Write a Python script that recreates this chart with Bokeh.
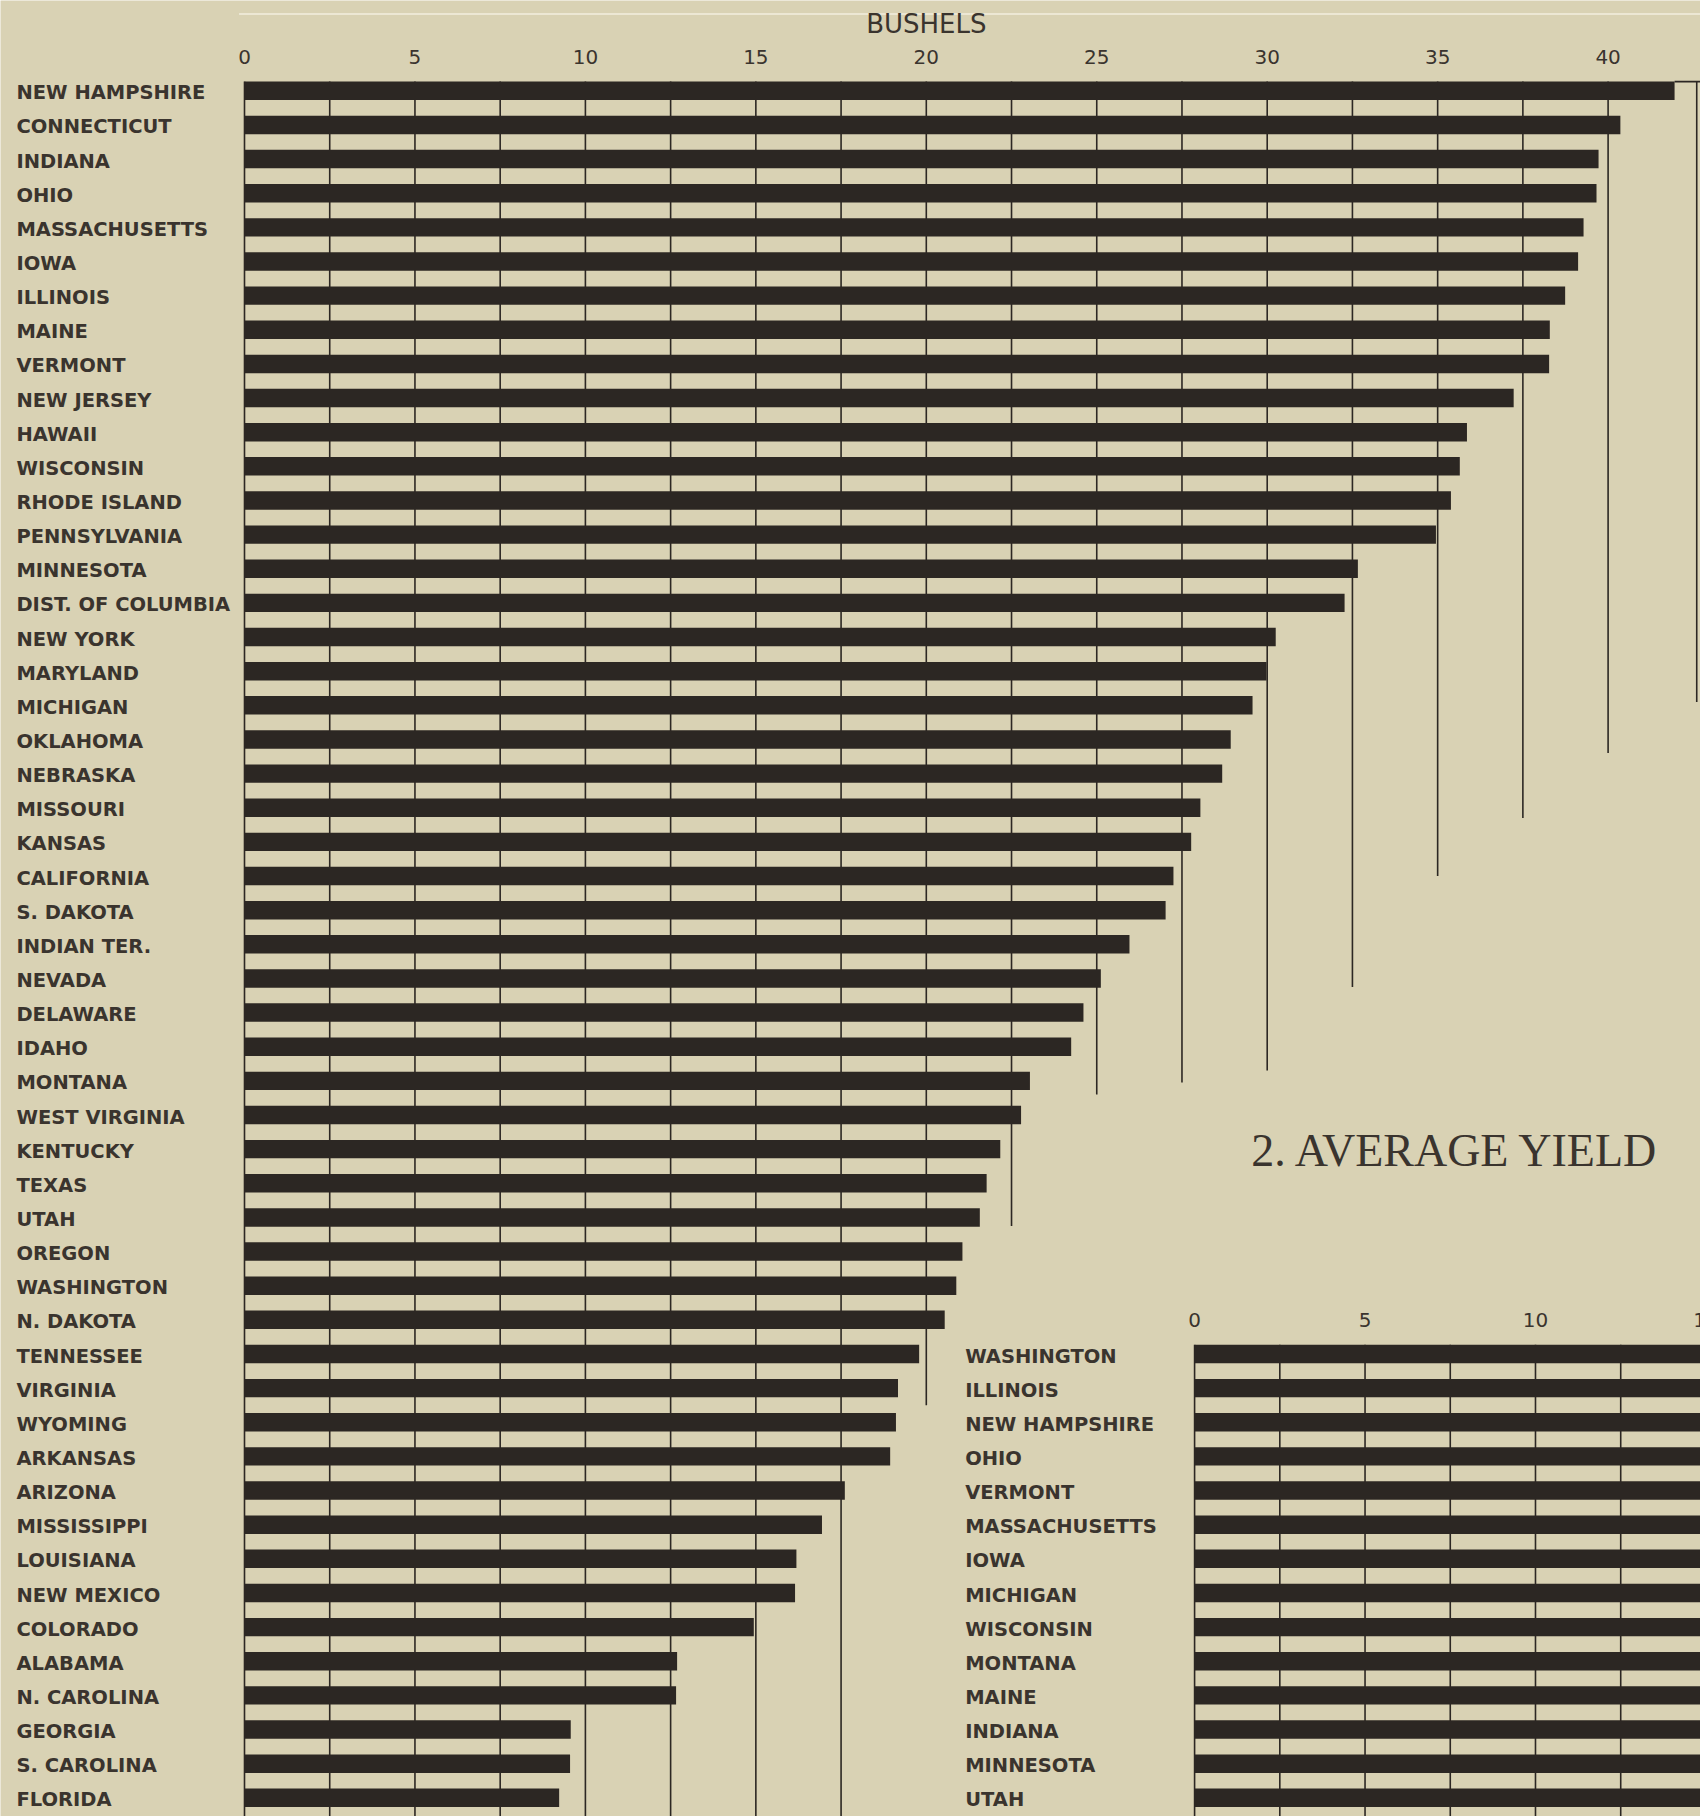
from bokeh.plotting import figure
from bokeh.models import Range1d
from bokeh.core.properties import value
from bokeh.embed import file_html
from bokeh.resources import INLINE

# ---------------- data (chart 1: average yield per acre, bushels) ----------------
states = ["NEW HAMPSHIRE", "CONNECTICUT", "INDIANA", "OHIO", "MASSACHUSETTS", "IOWA",
          "ILLINOIS", "MAINE", "VERMONT", "NEW JERSEY", "HAWAII", "WISCONSIN",
          "RHODE ISLAND", "PENNSYLVANIA", "MINNESOTA", "DIST. OF COLUMBIA", "NEW YORK",
          "MARYLAND", "MICHIGAN", "OKLAHOMA", "NEBRASKA", "MISSOURI", "KANSAS",
          "CALIFORNIA", "S. DAKOTA", "INDIAN TER.", "NEVADA", "DELAWARE", "IDAHO",
          "MONTANA", "WEST VIRGINIA", "KENTUCKY", "TEXAS", "UTAH", "OREGON",
          "WASHINGTON", "N. DAKOTA", "TENNESSEE", "VIRGINIA", "WYOMING", "ARKANSAS",
          "ARIZONA", "MISSISSIPPI", "LOUISIANA", "NEW MEXICO", "COLORADO", "ALABAMA",
          "N. CAROLINA", "GEORGIA", "S. CAROLINA", "FLORIDA"]
yields = [41.95, 40.36, 39.72, 39.66, 39.28, 39.12, 38.74, 38.29, 38.27, 37.23, 35.86,
          35.65, 35.39, 34.95, 32.66, 32.27, 30.25, 29.98, 29.57, 28.93, 28.68, 28.04,
          27.77, 27.25, 27.02, 25.96, 25.12, 24.61, 24.25, 23.04, 22.78, 22.17, 21.77,
          21.57, 21.06, 20.88, 20.54, 19.79, 19.17, 19.11, 18.94, 17.61, 16.94, 16.19,
          16.15, 14.94, 12.69, 12.66, 9.57, 9.55, 9.23]
tick_values = [0, 5, 10, 15, 20, 25, 30, 35, 40]
tick_labels = ["0", "5", "10", "15", "20", "25", "30", "35", "40"]
axis_title = "BUSHELS"

# rules every 2.5 bushels and the row at which each one stops
rule_x = [0, 2.5, 5, 7.5, 10, 12.5, 15, 17.5, 20, 22.5, 25, 27.5, 30, 32.5, 35, 37.5, 40, 42.6]
rule_end_row = [99, 99, 99, 99, 99, 99, 99, 99, 38.5, 33.25, 29.4, 29.05, 28.7, 26.25,
                23.0, 21.3, 19.4, 17.9]

# ---------------- data (chart 2, cut off at the right edge) ----------------
title2 = "2. AVERAGE YIELD"
states2 = ["WASHINGTON", "ILLINOIS", "NEW HAMPSHIRE", "OHIO", "VERMONT", "MASSACHUSETTS",
           "IOWA", "MICHIGAN", "WISCONSIN", "MONTANA", "MAINE", "INDIANA", "MINNESOTA", "UTAH"]
yields2 = [24.9, 24.0, 23.6, 23.2, 22.9, 22.5, 21.7, 21.3, 21.0, 20.7, 20.5, 20.2, 19.9, 19.6]
tick_values2 = [0, 5, 10, 15]
tick_labels2 = ["0", "5", "10", "15"]
rule_x2 = [0, 2.5, 5, 7.5, 10, 12.5, 15]

# ---------------- layout / style ----------------
W, H = 1700, 1816
ZERO_PX = 244.0      # px of 0 bushels
UNIT = 34.09         # px per bushel
ROW0 = 90.3          # px of first row centre
ROW = 34.14          # px per row
OFFSET2 = 27.87      # chart 2 zero, in chart-1 bushels
FIRST_ROW2 = 37

BG = "#d9d2b4"
INK = "#2c2723"
TXT = "#3a342e"

x_start = -ZERO_PX / UNIT
x_end = (W - ZERO_PX) / UNIT
y_top = -ROW0 / ROW
y_bot = (H - ROW0) / ROW

p = figure(width=W, height=H, output_backend="svg", toolbar_location=None,
           x_range=Range1d(x_start, x_end), y_range=Range1d(y_bot, y_top),
           x_axis_location=None, y_axis_location=None, min_border=0)
p.extra_x_ranges = {"c2": Range1d(x_start - OFFSET2, x_end - OFFSET2)}
p.background_fill_color = BG
p.border_fill_color = BG
p.outline_line_color = None
p.xgrid.visible = False
p.ygrid.visible = False

rows = list(range(len(states)))
rows2 = [FIRST_ROW2 + i for i in range(len(states2))]
BAR_H = 0.54
top_edge = -BAR_H / 2

# light fold line at the very top
p.segment(x0=[-0.16], y0=[-2.25], x1=[x_end + 1], y1=[-2.25], line_color="#f2eedf", line_width=1.6)

# rules chart 1
ends = [min(e, y_bot + 1) for e in rule_end_row]
p.segment(x0=rule_x, y0=[top_edge] * len(rule_x), x1=rule_x, y1=ends,
          line_color=INK, line_width=1.6)
p.segment(x0=[yields[0]], y0=[top_edge], x1=[x_end + 1], y1=[top_edge],
          line_color=INK, line_width=1.6)

# bars chart 1
p.hbar(y=rows, left=0, right=yields, height=BAR_H, fill_color=INK, line_color=None)

# state labels chart 1
p.text(x=[-6.69] * len(states), y=[r + 0.06 for r in rows], text=states,
       text_font=value("DejaVu Sans"), text_font_style="bold", text_font_size="19.5px",
       text_color=TXT, text_align="left", text_baseline="middle")

# tick labels chart 1
p.text(x=tick_values, y=[-1.0] * len(tick_values), text=tick_labels,
       text_font=value("DejaVu Sans"), text_font_size="20px", text_color=TXT,
       text_align="center", text_baseline="middle")
p.text(x=[20], y=[-1.97], text=[axis_title],
       text_font=value("DejaVu Sans"), text_font_size="26px", text_color=TXT,
       text_align="center", text_baseline="middle")

# chart 2 title
p.text(x=[1.66], y=[31.04], text=[title2], x_range_name="c2",
       text_font=value("Liberation Serif"), text_font_size="46px", text_color=TXT,
       text_align="left", text_baseline="middle")

# chart 2 rules, bars, labels, ticks
top2 = FIRST_ROW2 - BAR_H / 2
p.segment(x0=rule_x2, y0=[top2] * len(rule_x2), x1=rule_x2, y1=[y_bot + 1] * len(rule_x2),
          line_color=INK, line_width=1.6, x_range_name="c2")
p.hbar(y=rows2, left=0, right=yields2, height=BAR_H, fill_color=INK, line_color=None,
       x_range_name="c2")
p.text(x=[-6.73] * len(states2), y=[r + 0.06 for r in rows2], text=states2, x_range_name="c2",
       text_font=value("DejaVu Sans"), text_font_style="bold", text_font_size="19.5px",
       text_color=TXT, text_align="left", text_baseline="middle")
p.text(x=tick_values2, y=[FIRST_ROW2 - 1.0] * len(tick_values2), text=tick_labels2,
       x_range_name="c2", text_font=value("DejaVu Sans"), text_font_size="20px",
       text_color=TXT, text_align="center", text_baseline="middle")

open("out.html", "w").write(file_html(p, INLINE))
